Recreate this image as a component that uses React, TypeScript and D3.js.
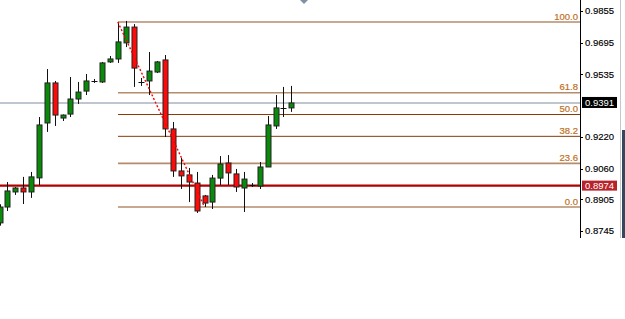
import React from "react";
import * as d3 from "d3";

// ---- data (prices) ----
const opens = [0.8786, 0.8866, 0.8942, 0.8962, 0.8942, 0.9013, 0.929, 0.9492, 0.9315, 0.9335, 0.9411, 0.9451, 0.95, 0.9497, 0.9598, 0.9613, 0.9694, 0.9774, 0.9497, 0.9502, 0.9547, 0.9608, 0.926, 0.9048, 0.9028, 0.8987, 0.8922, 0.8891, 0.9012, 0.9088, 0.9033, 0.8962, 0.8975, 0.8972, 0.9068, 0.9275, 0.9364, 0.9366];
const highs = [0.888, 0.8992, 0.8967, 0.9018, 0.9043, 0.932, 0.9562, 0.9502, 0.9333, 0.9522, 0.9497, 0.9537, 0.9512, 0.9598, 0.9628, 0.97995, 0.9805, 0.9789, 0.9517, 0.9648, 0.9603, 0.9633, 0.9295, 0.9113, 0.9063, 0.9043, 0.8927, 0.9028, 0.9123, 0.9128, 0.9058, 0.9043, 0.8987, 0.9093, 0.9325, 0.9431, 0.9472, 0.9477];
const lows = [0.8772, 0.8846, 0.8927, 0.8881, 0.8912, 0.8977, 0.9245, 0.9275, 0.93, 0.932, 0.9386, 0.9431, 0.9492, 0.9492, 0.9593, 0.9593, 0.9673, 0.9472, 0.9477, 0.9431, 0.9542, 0.9219, 0.9018, 0.8957, 0.8891, 0.8836, 0.8866, 0.8856, 0.8977, 0.8977, 0.8942, 0.8841, 0.8967, 0.8957, 0.9068, 0.926, 0.932, 0.9346];
const closes = [0.8866, 0.8947, 0.8962, 0.8942, 0.9018, 0.928, 0.9492, 0.933, 0.933, 0.9411, 0.9446, 0.9502, 0.9502, 0.9593, 0.9613, 0.9699, 0.9774, 0.9567, 0.9499, 0.9552, 0.9598, 0.926, 0.9048, 0.9023, 0.8992, 0.8846, 0.8886, 0.9012, 0.9083, 0.9038, 0.8967, 0.9007, 0.8977, 0.9068, 0.928, 0.9366, 0.9366, 0.9391];

const tickValues = [0.9855, 0.9695, 0.9535, 0.922, 0.906, 0.8905, 0.8745];
const fibLevels = [0, 23.6, 38.2, 50, 61.8, 100];
const fibHigh = 0.97995;
const fibLow = 0.8866;
const fibStartIndex = 15;
const fibEndIndex = 26;
const currentPrice = 0.9391;
const redLevel = 0.8974;

const W = 625;
const H = 319;
const AXIS_X = 580;
const PLOT_BOTTOM = 238;
const FONT = "'Liberation Sans', Arial, sans-serif";

export default function App() {
  const y = d3.scaleLinear().domain([0.8745, 0.9855]).range([231, 11]);
  const x = d3.scaleLinear().domain([0, opens.length - 1]).range([-0.5, 291.3]);
  const bodyW = 5;

  const fibX0 = Math.round(x(fibStartIndex));
  const fibPrice = (lvl: number) => fibLow + ((fibHigh - fibLow) * lvl) / 100;
  const darkLevels = new Set([50, 38.2]);

  return (
    <svg
      width={W}
      height={H}
      style={{ position: "fixed", left: 0, top: 0, background: "#fff" }}
      fontFamily={FONT}
    >
      <rect x={0} y={0} width={W} height={H} fill="#fff" />

      {/* full-width horizontal lines */}
      <line x1={0} x2={AXIS_X} y1={y(currentPrice)} y2={y(currentPrice)} stroke="#a9b3c0" strokeWidth={1.5} />
      <line x1={0} x2={AXIS_X} y1={y(redLevel)} y2={y(redLevel)} stroke="#b00000" strokeWidth={2.2} />

      {/* fibonacci levels */}
      {fibLevels.map((lvl) => {
        const yy = y(fibPrice(lvl));
        const dark = darkLevels.has(lvl);
        return (
          <g key={lvl}>
            <line
              x1={fibX0}
              x2={AXIS_X}
              y1={yy}
              y2={yy}
              stroke={dark ? "#8a3a08" : "#b58c6c"}
              strokeWidth={dark ? 1 : 1.6}
            />
            <text x={578} y={yy - 2.5} textAnchor="end" fontSize={9.5} fill="#c0701c" stroke="#c0701c" strokeWidth={0.2}>
              {lvl.toFixed(1)}
            </text>
          </g>
        );
      })}

      {/* candles */}
      {opens.map((o, i) => {
        const c = closes[i];
        const cx = Math.round(x(i)) + 0.5;
        const top = y(Math.max(o, c));
        const bot = y(Math.min(o, c));
        const up = c > o;
        const doji = Math.abs(bot - top) < 1.5;
        return (
          <g key={i}>
            <line x1={cx} x2={cx} y1={y(highs[i])} y2={y(lows[i])} stroke="#111" strokeWidth={1} />
            {doji ? (
              <line x1={cx - 3} x2={cx + 3} y1={Math.round(top) + 0.5} y2={Math.round(top) + 0.5} stroke="#111" strokeWidth={1} />
            ) : (
              <rect
                x={cx - bodyW / 2}
                y={top}
                width={bodyW}
                height={bot - top}
                fill={up ? "#0a8a0a" : "#ff0a0a"}
                stroke="#222"
                strokeWidth={1}
              />
            )}
          </g>
        );
      })}

      {/* dotted fib trend line */}
      <line
        x1={x(fibStartIndex)}
        y1={y(fibHigh)}
        x2={x(fibEndIndex)}
        y2={y(fibLow)}
        stroke="#ff0000"
        strokeWidth={1.4}
        strokeDasharray="2,2"
      />

      {/* axis */}
      <line x1={AXIS_X + 0.5} x2={AXIS_X + 0.5} y1={0} y2={PLOT_BOTTOM} stroke="#000" strokeWidth={1} />
      {tickValues.map((v) => (
        <g key={v}>
          <line x1={AXIS_X} x2={AXIS_X + 3} y1={Math.round(y(v)) + 0.5} y2={Math.round(y(v)) + 0.5} stroke="#000" />
          <text x={585} y={y(v)} dy="0.35em" fontSize={9.5} fill="#000" stroke="#000" strokeWidth={0.15}>
            {v.toFixed(4)}
          </text>
        </g>
      ))}

      {/* price labels */}
      <rect x={582} y={y(currentPrice) - 6} width={35} height={11} fill="#000" />
      <text x={585} y={y(currentPrice)} dy="0.35em" fontSize={9.5} fill="#fff">
        {currentPrice.toFixed(4)}
      </text>
      <rect x={582} y={y(redLevel) - 5} width={35} height={10} fill="#b8222a" />
      <text x={585} y={y(redLevel)} dy="0.35em" fontSize={9.5} fill="#fff">
        {redLevel.toFixed(4)}
      </text>

      {/* right scrollbar */}
      <rect x={620} y={0} width={1} height={PLOT_BOTTOM} fill="#c4c8cc" />
      <rect x={622} y={130} width={3} height={PLOT_BOTTOM - 130} fill="#34495e" />

      {/* top shift marker */}
      <path d="M300,0 L308,0 L304,4 Z" fill="#7f90a8" />
    </svg>
  );
}
